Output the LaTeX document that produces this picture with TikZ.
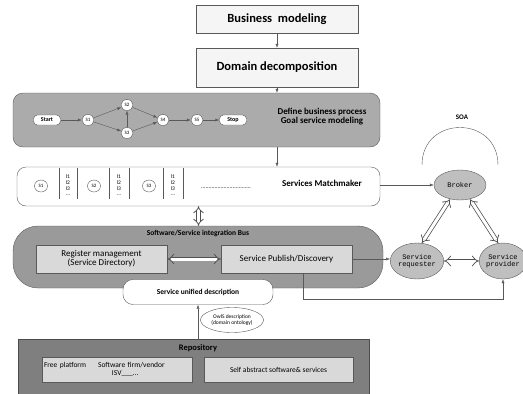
\documentclass[tikz,border=0pt]{standalone}
\usepackage{fontspec}
\setmainfont{Carlito}
\newfontfamily\soafont{Liberation Mono}
\usetikzlibrary{shapes,arrows.meta,positioning,calc}
\definecolor{edge}{HTML}{595959}
\definecolor{procgray}{HTML}{ABABAB}
\definecolor{busgray}{HTML}{9A9A9A}
\definecolor{repogray}{HTML}{7F7F7F}
\definecolor{boxgray}{HTML}{D9D9D9}
\definecolor{soagray}{HTML}{BFBFBF}
\newcommand{\fsz}[1]{\fontsize{#1}{#1pt}\selectfont}
\tikzstyle{stepbox} = [draw=edge, fill=gray!8, minimum width=162pt, font=\bfseries\fsz{12.5}]
\tikzstyle{pnode} = [draw=edge, fill=white, ellipse, inner sep=0pt, minimum width=12pt, minimum height=11pt, font=\fsz{5}]
\tikzstyle{term} = [draw=edge, fill=white, rounded corners=4pt, inner sep=1pt, minimum width=27pt, minimum height=10pt, font=\bfseries\fsz{6}]
\tikzstyle{inbox} = [draw=edge, fill=boxgray, minimum height=28pt, minimum width=131pt, align=center, font=\fsz{9}]
\tikzstyle{soa} = [draw=edge, fill=soagray, ellipse, inner sep=0pt, align=center, font=\soafont\fsz{7}]
\tikzstyle{flow} = [->, draw=edge]
\tikzstyle{hollow} = [draw=edge!90!black, line width=0.75pt, double=white, double distance=3pt, {Implies[scale=1.2]}-{Implies[scale=1.2]}]
\tikzset{>={Latex[length=4pt,width=3pt]}}

\begin{document}
\begin{tikzpicture}[x=1pt, y=-1pt]
    \useasboundingbox (0,0) rectangle (523,394);

    % top of the method
    \node [stepbox, minimum height=28pt] (bizmodel) at (277,19) {Business\ \ modeling};
    \node [stepbox, minimum height=39pt] (domain) at (277,67.5) {Domain decomposition};
    \draw [flow] (bizmodel) -- (domain);

    \node [draw=edge, fill=procgray, rounded corners=10pt, minimum width=367pt, minimum height=54pt] (process) at (196.5,120) {};
    \node [align=center, font=\bfseries\fsz{9}] (proclabel) at (322,116.5) {Define business process\\Goal service modeling};
    \draw [flow] (domain.south) -- (domain.south |- process.north);

    % business process
    \node [term] (start) at (47,120) {Start};
    \node [pnode] (s1) at (88,120) {S1};
    \node [pnode] (s2) at (127,105) {S2};
    \node [pnode] (s3) at (127,133) {S3};
    \node [pnode] (s4) at (163,120) {S4};
    \node [pnode] (s5) at (197,120) {S5};
    \node [term] (stop) at (233,120) {Stop};
    \foreach \a/\b in {start/s1, s1/s2, s1/s3, s3/s2, s2/s4, s3/s4, s4/s5, s5/stop}
        \draw [flow] (\a) -- (\b);

    % matchmaker
    \node [draw=edge, fill=white, rounded corners=9pt, minimum width=363pt, minimum height=39pt] (match) at (198.5,186.5) {};
    \draw [flow] (domain.south |- process.south) -- (domain.south |- match.north);
    \foreach \x/\l/\r/\i in {41/59/77/1, 94/109/129/2, 149/163/183/3} {
        \node [pnode, minimum width=13pt, minimum height=12pt] (ms\i) at (\x,186) {S\i};
        \draw [edge] (\l,168) -- (\l,199);
        \draw [edge] (\r,168) -- (\r,199);
        \node [align=center, font=\fsz{5.5}, inner sep=0pt] (ml\i) at ({(\l+\r)/2},185) {l1\\[0.5pt]l2\\[0.5pt]l3\\[-1pt]...};
    }
    \node [font=\fsz{6}] (mdots) at (226,188) {.................................};
    \node [font=\bfseries\fsz{9}] (matchlabel) at (322,183) {Services Matchmaker};

    % SOA triangle
    \draw [edge] (422,165) .. controls (422,115) and (498,115) .. (498,165);
    \node [font=\bfseries\fsz{7}] (soalabel) at (462,117) {SOA};
    \node [soa, minimum width=52pt, minimum height=30pt] (broker) at (460,185) {Broker};
    \node [soa, minimum width=40pt, minimum height=36pt] (requester) at (417,261) {Service\\requester};
    \node [soa, minimum width=40pt, minimum height=36pt] (provider) at (503,261) {Service\\provider};
    \draw [flow] (match.east |- broker.west) -- (broker.west);
    \draw [hollow] (broker.235) -- (requester.75);
    \draw [hollow] (broker.305) -- (provider.105);
    \draw [hollow] (requester.east) -- (provider.west);

    % integration bus
    \node [draw=edge, fill=busgray, rounded corners=25pt, minimum width=370pt, minimum height=62pt] (bus) at (198,257) {};
    \node [font=\bfseries\fsz{7.5}] (buslabel) at (198,233) {Software/Service integration Bus};
    \draw [hollow] (match.south) -- (match.south |- bus.north);
    \node [inbox] (register) at (101.5,259) {Register management\\(Service Directory)};
    \node [inbox] (publish) at (286.5,259) {Service Publish/Discovery};
    \draw [hollow] (register.east) -- (publish.west);
    \draw [flow] (publish.east) -- (publish.east -| requester.west);
    \draw [flow] ([xshift=16.5pt]publish.south) -- ++(0,26) -| (provider.south);

    \node [draw=edge, fill=white, rounded corners=10pt, minimum width=150pt, minimum height=25pt, font=\bfseries\fsz{7.5}] (unified) at (198,292) {Service unified description};

    % repository
    \node [draw=black!70, fill=repogray, minimum width=351pt, minimum height=55pt] (repo) at (193.5,366.5) {};
    \node [font=\bfseries\fsz{8.5}] (repolabel) at (198,348) {Repository};
    \node [draw=edge, fill=boxgray, minimum width=150pt, minimum height=25pt, text width=146pt, inner xsep=2pt, align=left, font=\fsz{7.5}] (vendors) at (117,369.5) {Free platform\hspace{12pt}Software firm/vendor\\\hspace*{68pt}ISV\_\_\_...};
    \node [draw=edge, fill=boxgray, minimum width=149pt, minimum height=25pt, font=\fsz{7.5}] (selfsw) at (278.5,369.5) {Self abstract software\& services};
    \draw [flow] (unified.south |- repo.north) -- (unified.south);
    \node [draw=edge, fill=white, ellipse, inner sep=0pt, minimum width=63pt, minimum height=25pt, align=center, font=\fsz{5.5}] (owls) at (232,320) {OwlS description\\(domain ontology)};
\end{tikzpicture}
\end{document}
